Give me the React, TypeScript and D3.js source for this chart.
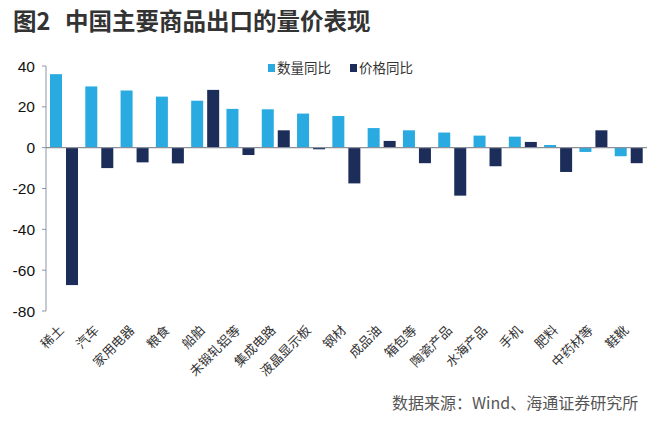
import React from "react";
import * as d3 from "d3";

const categories = ["稀土", "汽车", "家用电器", "粮食", "船舶", "未锻轧铝等", "集成电路", "液晶显示板", "钢材", "成品油", "箱包等", "陶瓷产品", "水海产品", "手机", "肥料", "中药材等", "鞋靴"];
const volumeYoY = [36, 30, 28, 25, 23, 19, 18.8, 16.7, 15.5, 9.6, 8.5, 7.4, 5.9, 5.4, 1.3, -2.1, -4.2];
const priceYoY = [-67.3, -10, -7.2, -7.7, 28.3, -3.6, 8.5, -0.8, -17.5, 3.3, -7.6, -23.5, -9.1, 2.8, -11.9, 8.5, -7.6];
const yTicks = [40, 20, 0, -20, -40, -60, -80];
const seriesNames = ["数量同比", "价格同比"];

const W = 660, H = 426;
const colors = ["#29ABE2", "#1B2D58"];
const cjk = "'Noto Sans CJK SC', 'Noto Sans', sans-serif";

export default function App() {
  const x = d3.scaleBand<string>().domain(categories).range([46, 646]).paddingInner(0).paddingOuter(0);
  const y = d3.scaleLinear().domain([-80, 40]).range([311, 66]);
  const bw = 12;
  const offsets = [4, 20];
  const series = [volumeYoY, priceYoY];

  return (
    <svg width={W} height={H} style={{ position: "absolute", left: 0, top: 0, background: "#fff" }}>
      <text x={13} y={30} fontFamily={cjk} fontWeight={700} fontSize={23.5} fill="#333">
        <tspan>图2</tspan>
        <tspan x={65}>中国主要商品出口的量价表现</tspan>
      </text>

      {/* y axis */}
      <line x1={46} x2={46} y1={y(40)} y2={y(-80)} stroke="#8a94a6" strokeWidth={1} />
      {yTicks.map((t) => (
        <g key={t}>
          <line x1={42} x2={46} y1={y(t)} y2={y(t)} stroke="#8a94a6" strokeWidth={1} />
          <text x={35} y={y(t)} dy="0.36em" textAnchor="end" fontFamily="'Liberation Sans', Arial, sans-serif" fontSize={15.5} fill="#111">
            {t}
          </text>
        </g>
      ))}

      {/* bars */}
      {series.map((vals, si) =>
        vals.map((v, i) => (
          <rect
            key={`${si}-${i}`}
            x={(x(categories[i]) as number) + offsets[si]}
            y={Math.min(y(v), y(0))}
            width={bw}
            height={Math.abs(y(v) - y(0))}
            fill={colors[si]}
          />
        ))
      )}

      {/* zero line */}
      <line x1={46} x2={647} y1={y(0)} y2={y(0)} stroke="#8a8f99" strokeWidth={1.2} />

      {/* category labels */}
      {categories.map((c) => {
        const cx = (x(c) as number) + x.bandwidth() / 2;
        return (
          <text
            key={c}
            transform={`translate(${cx + 1},${331}) rotate(-45)`}
            textAnchor="end"
            fontFamily={cjk}
            fontSize={13}
            fill="#333"
          >
            {c}
          </text>
        );
      })}

      {/* legend */}
      {seriesNames.map((n, i) => {
        const lx = [268, 350][i];
        return (
          <g key={n}>
            <rect x={lx} y={64} width={7} height={8} fill={colors[i]} />
            <text x={lx + 9} y={72.5} fontFamily={cjk} fontSize={13.5} fill="#333">
              {n}
            </text>
          </g>
        );
      })}

      <text x={392} y={409} fontFamily={cjk} fontSize={16} fill="#555">
        数据来源：Wind、海通证券研究所
      </text>
    </svg>
  );
}
